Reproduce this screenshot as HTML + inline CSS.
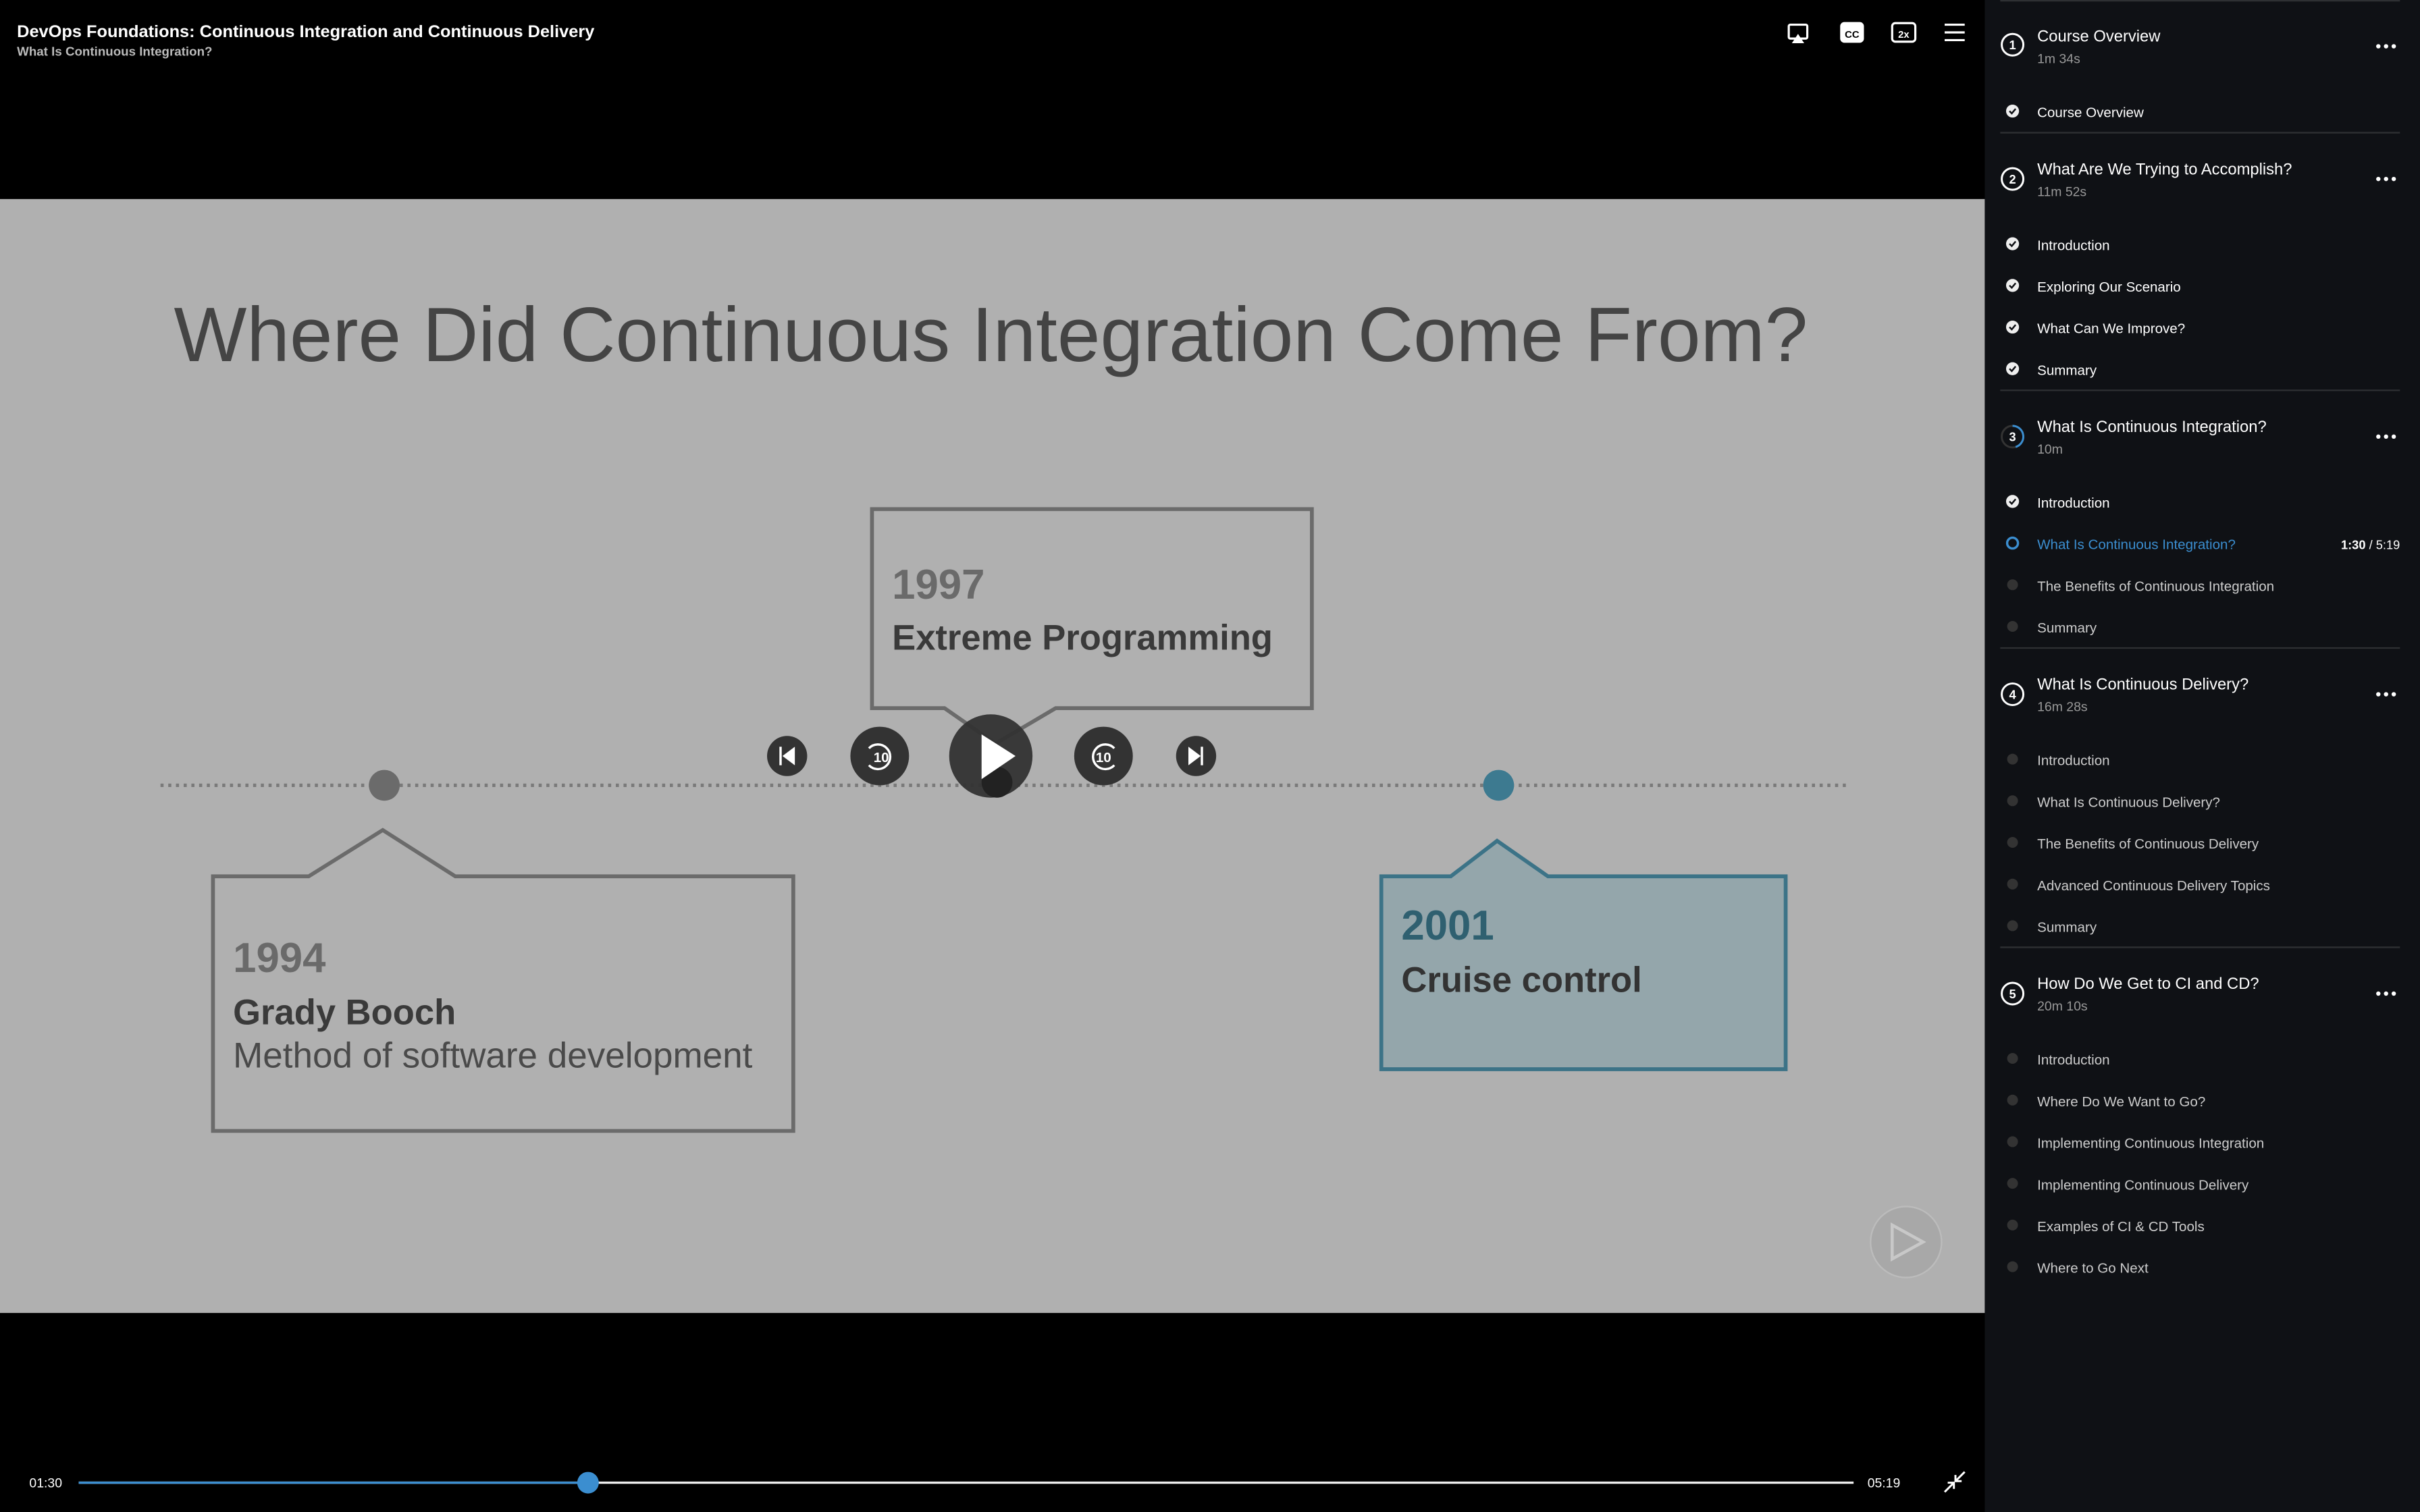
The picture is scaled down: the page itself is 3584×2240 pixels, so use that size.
<!DOCTYPE html>
<html><head><meta charset="utf-8"><style>
html,body{margin:0;padding:0;background:#000;width:3584px;height:2240px;overflow:hidden}
svg{display:block}
text{font-family:"Liberation Sans",sans-serif}
</style></head><body>
<svg width="3584" height="2240" viewBox="0 0 1568 980" xmlns="http://www.w3.org/2000/svg">
<rect x="0" y="0" width="1568" height="980" fill="#000"/>
<!-- header -->
<text x="11" y="24" font-size="11.1" font-weight="bold" fill="#fff">DevOps Foundations: Continuous Integration and Continuous Delivery</text>
<text x="11" y="36" font-size="8.2" font-weight="bold" fill="#bbb">What Is Continuous Integration?</text>
<g fill="none" stroke="#fff" stroke-width="1.4">
<rect x="1159" y="16" width="12" height="9" rx="1"/>
<rect x="1193" y="15" width="14" height="12" rx="2" fill="#fff"/>
<rect x="1226" y="15" width="15" height="12" rx="2"/>
<line x1="1260" y1="16" x2="1273" y2="16"/><line x1="1260" y1="21" x2="1273" y2="21"/><line x1="1260" y1="26" x2="1273" y2="26"/>
</g>
<polygon points="1161,28 1165,22 1169,28" fill="#fff"/>
<text x="1200" y="24.5" font-size="6.5" font-weight="bold" fill="#000" text-anchor="middle">CC</text>
<text x="1233.5" y="24.5" font-size="6.5" font-weight="bold" fill="#fff" text-anchor="middle">2x</text>
<!-- slide -->
<rect x="0" y="129" width="1286" height="722" fill="#b0b0b0"/>
<text x="642" y="234" font-size="50" fill="#444" text-anchor="middle">Where Did Continuous Integration Come From?</text>
<line x1="104" y1="509" x2="1198" y2="509" stroke="#7a7a7a" stroke-width="2.2" stroke-dasharray="2,3"/>
<!-- 1997 box -->
<path d="M612,459 L565,459 L565,330 L850,330 L850,459 L684,459 L645,482 Z" fill="none" stroke="#6b6b6b" stroke-width="2.5"/>
<text x="578" y="388" font-size="27" font-weight="bold" fill="#6a6a6a">1997</text>
<text x="578" y="421" font-size="23" font-weight="bold" fill="#3a3a3a">Extreme Programming</text>
<!-- 1994 -->
<circle cx="249" cy="509" r="10" fill="#6b6b6b"/>
<path d="M200,568 L138,568 L138,733 L514,733 L514,568 L295,568 L248,538 Z" fill="none" stroke="#6b6b6b" stroke-width="2.5"/>
<text x="151" y="630" font-size="27" font-weight="bold" fill="#6a6a6a">1994</text>
<text x="151" y="664" font-size="23" font-weight="bold" fill="#3a3a3a">Grady Booch</text>
<text x="151" y="692" font-size="23.2" fill="#4a4a4a">Method of software development</text>
<!-- 2001 -->
<circle cx="971" cy="509" r="10" fill="#3d7a90"/>
<path d="M940,568 L895,568 L895,693 L1157,693 L1157,568 L1003,568 L970,545 Z" fill="#94a6ab" stroke="#3c7387" stroke-width="2.5"/>
<text x="908" y="609" font-size="27" font-weight="bold" fill="#2f6070">2001</text>
<text x="908" y="643" font-size="23" font-weight="bold" fill="#333">Cruise control</text>
<!-- controls -->
<g fill="#333">
<circle cx="510" cy="490" r="13"/><circle cx="570" cy="490" r="19"/><circle cx="642" cy="490" r="27" opacity="0.95"/><circle cx="715" cy="490" r="19"/><circle cx="775" cy="490" r="13"/>
</g>
<circle cx="646" cy="507" r="10" fill="#222"/>
<polygon points="636,476 636,505 658,490" fill="#fff"/>
<rect x="505" y="484" width="1.5" height="12" fill="#fff"/><polygon points="515,484 515,496 507,490" fill="#fff"/>
<rect x="778" y="484" width="1.5" height="12" fill="#fff"/><polygon points="770,484 770,496 778,490" fill="#fff"/>
<g fill="none" stroke="#fff" stroke-width="1.5">
<path d="M563,485 A8,8 0 1 1 563,496"/><path d="M722,485 A8,8 0 1 0 722,496"/>
</g>
<text x="571" y="494" font-size="9" font-weight="bold" fill="#fff" text-anchor="middle">10</text>
<text x="715" y="494" font-size="9" font-weight="bold" fill="#fff" text-anchor="middle">10</text>
<circle cx="1235" cy="805" r="23" fill="#a8a8a8" stroke="#bcbcbc" stroke-width="1"/>
<polygon points="1226,794 1226,816 1246,805" fill="none" stroke="#c8c8c8" stroke-width="2"/>
<!-- bottom bar -->
<text x="19" y="964" font-size="8.5" fill="#fff">01:30</text>
<line x1="51" y1="961" x2="1201" y2="961" stroke="#eee" stroke-width="1.5"/>
<line x1="51" y1="961" x2="381" y2="961" stroke="#3b8ed0" stroke-width="1.5"/>
<circle cx="381" cy="961" r="7" fill="#3b8ed0"/>
<text x="1210" y="964" font-size="8.5" fill="#fff">05:19</text>
<g stroke="#fff" stroke-width="1.3" fill="none"><line x1="1260" y1="967" x2="1266" y2="961"/><line x1="1267" y1="960" x2="1273" y2="954"/><polyline points="1262,961 1266,961 1266,965"/><polyline points="1267,956 1267,960 1271,960"/></g>
<!-- sidebar -->
<rect x="1286" y="0" width="282" height="980" fill="#0f1115"/>
<g stroke="#2e3033" stroke-width="1"><line x1="1296" y1="0.5" x2="1555" y2="0.5"/><line x1="1296" y1="86" x2="1555" y2="86"/><line x1="1296" y1="253" x2="1555" y2="253"/><line x1="1296" y1="420" x2="1555" y2="420"/><line x1="1296" y1="614" x2="1555" y2="614"/></g>
<g font-size="10.4" fill="#fff">
<text x="1320" y="27">Course Overview</text>
<text x="1320" y="113">What Are We Trying to Accomplish?</text>
<text x="1320" y="280">What Is Continuous Integration?</text>
<text x="1320" y="447">What Is Continuous Delivery?</text>
<text x="1320" y="641">How Do We Get to CI and CD?</text>
</g>
<g font-size="8.5" fill="#999">
<text x="1320" y="41">1m 34s</text><text x="1320" y="127">11m 52s</text><text x="1320" y="294">10m</text><text x="1320" y="461">16m 28s</text><text x="1320" y="655">20m 10s</text>
</g>
<g fill="none" stroke="#fff" stroke-width="1.3">
<circle cx="1304" cy="29" r="7"/><circle cx="1304" cy="116" r="7"/><circle cx="1304" cy="450" r="7"/><circle cx="1304" cy="644" r="7"/>
</g>
<circle cx="1304" cy="283" r="7" fill="none" stroke="#333" stroke-width="1.3"/>
<path d="M1304,276 A7,7 0 0 1 1306,289.7" fill="none" stroke="#3b8ed0" stroke-width="1.3"/>
<g font-size="8" font-weight="bold" fill="#fff" text-anchor="middle">
<text x="1304" y="32">1</text><text x="1304" y="119">2</text><text x="1304" y="286">3</text><text x="1304" y="453">4</text><text x="1304" y="647">5</text>
</g>
<g fill="#fff">
<circle cx="1541" cy="30" r="1.4"/><circle cx="1546" cy="30" r="1.4"/><circle cx="1551" cy="30" r="1.4"/>
<circle cx="1541" cy="116" r="1.4"/><circle cx="1546" cy="116" r="1.4"/><circle cx="1551" cy="116" r="1.4"/>
<circle cx="1541" cy="283" r="1.4"/><circle cx="1546" cy="283" r="1.4"/><circle cx="1551" cy="283" r="1.4"/>
<circle cx="1541" cy="450" r="1.4"/><circle cx="1546" cy="450" r="1.4"/><circle cx="1551" cy="450" r="1.4"/>
<circle cx="1541" cy="644" r="1.4"/><circle cx="1546" cy="644" r="1.4"/><circle cx="1551" cy="644" r="1.4"/>
</g>
<!-- checks -->
<g fill="#eee">
<circle cx="1304" cy="72" r="4.2"/><circle cx="1304" cy="158" r="4.2"/><circle cx="1304" cy="185" r="4.2"/><circle cx="1304" cy="212" r="4.2"/><circle cx="1304" cy="239" r="4.2"/><circle cx="1304" cy="325" r="4.2"/>
</g>
<g fill="none" stroke="#0f1115" stroke-width="1.1">
<polyline points="1302,72 1303.5,73.5 1306,70.5"/><polyline points="1302,158 1303.5,159.5 1306,156.5"/><polyline points="1302,185 1303.5,186.5 1306,183.5"/><polyline points="1302,212 1303.5,213.5 1306,210.5"/><polyline points="1302,239 1303.5,240.5 1306,237.5"/><polyline points="1302,325 1303.5,326.5 1306,323.5"/>
</g>
<circle cx="1304" cy="352" r="3.5" fill="none" stroke="#3b8ed0" stroke-width="1.5"/>
<g fill="#333">
<circle cx="1304" cy="379" r="3.5"/><circle cx="1304" cy="406" r="3.5"/>
<circle cx="1304" cy="492" r="3.5"/><circle cx="1304" cy="519" r="3.5"/><circle cx="1304" cy="546" r="3.5"/><circle cx="1304" cy="573" r="3.5"/><circle cx="1304" cy="600" r="3.5"/>
<circle cx="1304" cy="686" r="3.5"/><circle cx="1304" cy="713" r="3.5"/><circle cx="1304" cy="740" r="3.5"/><circle cx="1304" cy="767" r="3.5"/><circle cx="1304" cy="794" r="3.5"/><circle cx="1304" cy="821" r="3.5"/>
</g>
<g font-size="9" fill="#fff">
<text x="1320" y="76">Course Overview</text>
<text x="1320" y="162">Introduction</text><text x="1320" y="189">Exploring Our Scenario</text><text x="1320" y="216">What Can We Improve?</text><text x="1320" y="243">Summary</text>
<text x="1320" y="329">Introduction</text>
</g>
<text x="1320" y="356" font-size="9" fill="#3b8ed0">What Is Continuous Integration?</text>
<text x="1555" y="356" font-size="8" fill="#fff" text-anchor="end"><tspan font-weight="bold">1:30</tspan> / 5:19</text>
<g font-size="9" fill="#ccc">
<text x="1320" y="383">The Benefits of Continuous Integration</text><text x="1320" y="410">Summary</text>
<text x="1320" y="496">Introduction</text><text x="1320" y="523">What Is Continuous Delivery?</text><text x="1320" y="550">The Benefits of Continuous Delivery</text><text x="1320" y="577">Advanced Continuous Delivery Topics</text><text x="1320" y="604">Summary</text>
<text x="1320" y="690">Introduction</text><text x="1320" y="717">Where Do We Want to Go?</text><text x="1320" y="744">Implementing Continuous Integration</text><text x="1320" y="771">Implementing Continuous Delivery</text><text x="1320" y="798">Examples of CI &amp; CD Tools</text><text x="1320" y="825">Where to Go Next</text>
</g>
</svg>
</body></html>
